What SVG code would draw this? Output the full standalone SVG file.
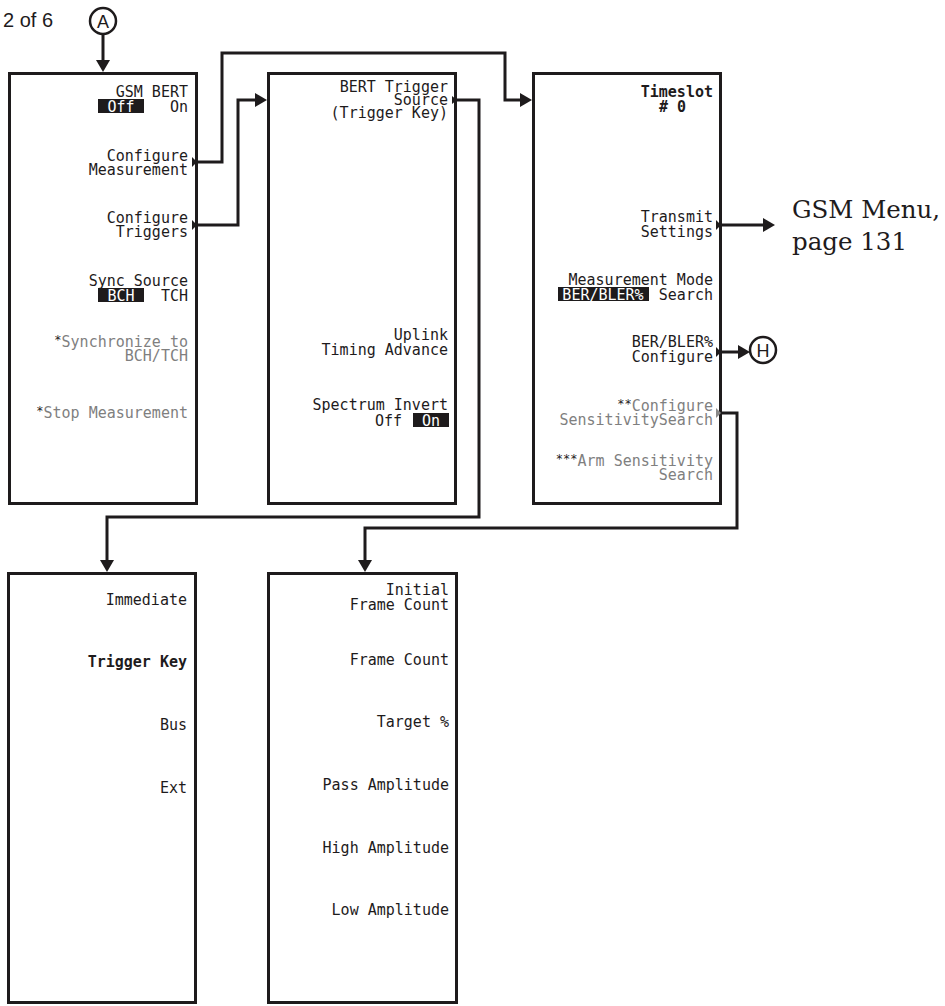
<svg xmlns="http://www.w3.org/2000/svg" width="945" height="1006" viewBox="0 0 945 1006">
<style>
.box{fill:#fff;stroke:#1e1b1c;stroke-width:3}
.t{font-family:"DejaVu Sans Mono","Liberation Mono",monospace;font-size:15px;fill:#1e1b1c;text-anchor:end}
.g{fill:#7f7f7f}
.b{font-weight:bold}
.w{fill:#fff}
.m{text-anchor:middle}
.s{font-size:12px;fill:#1e1b1c}
.hl{fill:#1e1b1c}
.c{fill:none;stroke:#1e1b1c;stroke-width:3}
.sk{fill:#1e1b1c}
.skg{fill:#8a8a8a}
.circ{fill:#fff;stroke:#1e1b1c;stroke-width:2.5}
.cl{font-family:"Liberation Sans",Arial,sans-serif;font-size:18px;fill:#1e1b1c;text-anchor:middle}
.ref{font-family:"DejaVu Serif","Liberation Serif",serif;font-size:24.5px;fill:#1e1b1c}
</style>
<defs>
<marker id="ah" viewBox="0 0 12 14" refX="6" refY="7" markerWidth="12" markerHeight="14" markerUnits="userSpaceOnUse" orient="auto">
<path d="M0,0 L12,7 L0,14 z" fill="#1e1b1c"/>
</marker>
</defs>
<rect width="945" height="1006" fill="#fff"/>
<text x="3" y="27" font-family="Liberation Sans, Arial, sans-serif" font-size="20" fill="#1e1b1c">2 of 6</text>

<g id="connectors">
<path class="c" d="M103,35 V66" marker-end="url(#ah)"/>
<path class="c" d="M198,162 H222 V53 H505 V100 H526" marker-end="url(#ah)"/>
<path class="c" d="M198,225 H238 V100 H261" marker-end="url(#ah)"/>
<path class="c" d="M457,100 H479 V517 H107 V566" marker-end="url(#ah)"/>
<path class="c" d="M722,413 H737 V528 H365 V566" marker-end="url(#ah)"/>
<path class="c" d="M722,225 H769" marker-end="url(#ah)"/>
<path class="c" d="M722,352 H744" marker-end="url(#ah)"/>
</g>

<g id="nodeA">
<circle class="circ" cx="103" cy="21" r="13"/>
<text class="cl" x="103" y="27.5">A</text>
</g>

<g id="nodeH">
<circle class="circ" cx="763" cy="350" r="13"/>
<text class="cl" x="763" y="356.5">H</text>
</g>

<g id="gsmMenuRef">
<text class="ref" x="792" y="218">GSM Menu,<tspan x="792" y="250">page 131</tspan></text>
</g>

<g id="box1">
<rect class="box" x="9.5" y="73.5" width="187" height="430"/>
<text class="t" x="188" y="97">GSM BERT</text>
<rect class="hl" x="98" y="99" width="46" height="14"/>
<text class="t w m" x="121" y="112">Off</text>
<text class="t" x="188" y="112">On</text>
<text class="t" x="188" y="161">Configure<tspan x="188" y="175">Measurement</tspan></text>
<polygon class="sk" points="192,157 197,162 192,167"/>
<text class="t" x="188" y="223">Configure<tspan x="188" y="237">Triggers</tspan></text>
<polygon class="sk" points="192,220 197,225 192,230"/>
<text class="t" x="188" y="286">Sync Source</text>
<rect class="hl" x="98" y="288" width="46" height="14"/>
<text class="t w m" x="121" y="301">BCH</text>
<text class="t" x="188" y="301">TCH</text>
<text class="t" x="188" y="347"><tspan class="s" dy="-3">*</tspan><tspan class="g" dy="3">Synchronize to</tspan><tspan class="g" x="188" y="361">BCH/TCH</tspan></text>
<text class="t" x="188" y="418"><tspan class="s" dy="-3">*</tspan><tspan class="g" dy="3">Stop Measurement</tspan></text>
</g>

<g id="box2">
<rect class="box" x="268.5" y="73.5" width="187" height="430"/>
<text class="t" x="448" y="92">BERT Trigger<tspan x="448" y="105">Source</tspan><tspan x="448" y="118">(Trigger Key)</tspan></text>
<polygon class="sk" points="452,96 457,100 452,104"/>
<text class="t" x="448" y="340">Uplink<tspan x="448" y="355">Timing Advance</tspan></text>
<text class="t" x="448" y="410">Spectrum Invert</text>
<text class="t" x="402" y="426">Off</text>
<rect class="hl" x="413" y="413" width="36" height="14"/>
<text class="t w m" x="431" y="426">On</text>
</g>

<g id="box3">
<rect class="box" x="533.5" y="73.5" width="187" height="430"/>
<text class="t b" x="713" y="97">Timeslot</text>
<text class="t b" x="686" y="112"># 0</text>
<text class="t" x="713" y="222">Transmit<tspan x="713" y="237">Settings</tspan></text>
<polygon class="sk" points="716,220 721,225 716,230"/>
<text class="t" x="713" y="285">Measurement Mode</text>
<rect class="hl" x="558" y="287" width="91" height="14"/>
<text class="t w m" x="603" y="300">BER/BLER%</text>
<text class="t" x="713" y="300">Search</text>
<text class="t" x="713" y="347">BER/BLER%<tspan x="713" y="362">Configure</tspan></text>
<polygon class="sk" points="716,347 721,352 716,357"/>
<text class="t" x="713" y="411"><tspan class="s" dy="-3">**</tspan><tspan class="g" dy="3">Configure</tspan><tspan class="g" x="713" y="425">SensitivitySearch</tspan></text>
<polygon class="skg" points="716,408 721,413 716,418"/>
<text class="t" x="713" y="466"><tspan class="s" dy="-3">***</tspan><tspan class="g" dy="3">Arm Sensitivity</tspan><tspan class="g" x="713" y="480">Search</tspan></text>
</g>

<g id="box4">
<rect class="box" x="8.5" y="573.5" width="187" height="429"/>
<text class="t" x="187" y="605">Immediate</text>
<text class="t b" x="187" y="667">Trigger Key</text>
<text class="t" x="187" y="730">Bus</text>
<text class="t" x="187" y="793">Ext</text>
</g>

<g id="box5">
<rect class="box" x="268.5" y="573.5" width="188" height="429"/>
<text class="t" x="449" y="595">Initial<tspan x="449" y="610">Frame Count</tspan></text>
<text class="t" x="449" y="665">Frame Count</text>
<text class="t" x="449" y="727">Target %</text>
<text class="t" x="449" y="790">Pass Amplitude</text>
<text class="t" x="449" y="853">High Amplitude</text>
<text class="t" x="449" y="915">Low Amplitude</text>
</g>
</svg>
